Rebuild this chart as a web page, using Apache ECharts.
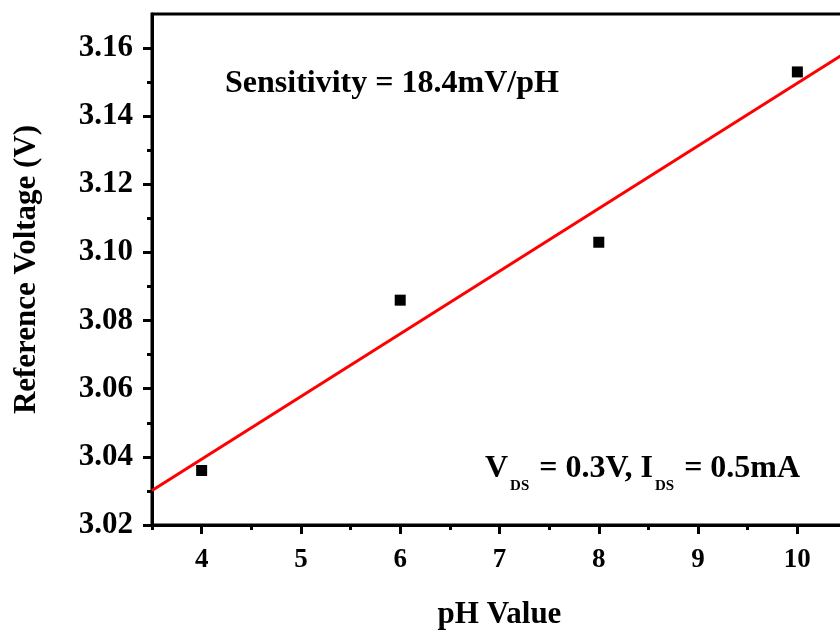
<!DOCTYPE html>
<html>
<head>
<meta charset="utf-8">
<script src="https://cdn.jsdelivr.net/npm/echarts@6/dist/echarts.min.js"></script>
<style>
  html, body { margin: 0; padding: 0; background: #fff; }
  #main { width: 840px; height: 631px; }
</style>
</head>
<body>
<div id="main"></div>
<script>
  // measured points
  var phValues = [4, 6, 8, 10];
  var refVoltage = [3.036, 3.086, 3.103, 3.153];
  // linear fit endpoints (18.4 mV/pH)
  var fitX = [3.5, 10.5];
  var fitY = [3.0301, 3.1589];
  // ticks
  var xMajorTicks = [4, 5, 6, 7, 8, 9, 10];
  var xMinorTicks = [3.5, 4.5, 5.5, 6.5, 7.5, 8.5, 9.5, 10.5];
  var yMajorTicks = [3.02, 3.04, 3.06, 3.08, 3.10, 3.12, 3.14, 3.16];
  var yMinorTicks = [3.03, 3.05, 3.07, 3.09, 3.11, 3.13, 3.15];

  var serif = 'Liberation Serif';
  var chart = echarts.init(document.getElementById('main'));

  chart.setOption({
    animation: false,
    grid: {
      left: 152, top: 14, right: -7, bottom: 106,
      outerBoundsMode: 'none', containLabel: false,
      show: true, borderColor: '#000', borderWidth: 3
    },
    xAxis: [
      {
        type: 'value', min: 3.5, max: 10.5, position: 'bottom',
        name: 'pH Value', nameLocation: 'middle', nameGap: 74,
        nameTextStyle: { fontFamily: serif, fontWeight: 'bold', fontSize: 31, color: '#000' },
        axisLine: { onZero: false, lineStyle: { color: '#000', width: 3 } },
        axisTick: { customValues: xMajorTicks, length: 9, lineStyle: { color: '#000', width: 3 } },
        axisLabel: {
          customValues: xMajorTicks, margin: 22,
          fontFamily: serif, fontWeight: 'bold', fontSize: 27, color: '#000'
        },
        splitLine: { show: false }
      },
      {
        type: 'value', min: 3.5, max: 10.5, position: 'bottom',
        axisLine: { show: false, onZero: false },
        axisTick: { customValues: xMinorTicks, length: 5, lineStyle: { color: '#000', width: 3 } },
        axisLabel: { show: false },
        splitLine: { show: false }
      }
    ],
    yAxis: [
      {
        type: 'value', min: 3.02, max: 3.17, position: 'left',
        name: 'Reference Voltage (V)', nameLocation: 'middle', nameGap: 110, nameRotate: 90,
        nameTextStyle: { fontFamily: serif, fontWeight: 'bold', fontSize: 31, color: '#000' },
        axisLine: { onZero: false, lineStyle: { color: '#000', width: 3 } },
        axisTick: { customValues: yMajorTicks, length: 9, lineStyle: { color: '#000', width: 3 } },
        axisLabel: {
          customValues: yMajorTicks, margin: 19,
          fontFamily: serif, fontWeight: 'bold', fontSize: 31, color: '#000',
          formatter: function (v) { return v.toFixed(2); }
        },
        splitLine: { show: false }
      },
      {
        type: 'value', min: 3.02, max: 3.17, position: 'left',
        axisLine: { show: false, onZero: false },
        axisTick: { customValues: yMinorTicks, length: 5, lineStyle: { color: '#000', width: 3 } },
        axisLabel: { show: false },
        splitLine: { show: false }
      }
    ],
    graphic: [
      {
        type: 'text', x: 225, y: 84,
        style: {
          text: 'Sensitivity = 18.4mV/pH',
          fontFamily: serif, fontWeight: 'bold', fontSize: 32, fill: '#000',
          align: 'left', verticalAlign: 'middle', textAlign: 'left', textVerticalAlign: 'middle'
        }
      },
      {
        type: 'text', x: 485, y: 443,
        style: {
          text: '{m|V}{s|DS}{m| = 0.3V, I}{s|DS}{m| = 0.5mA}',
          fontFamily: serif, fontWeight: 'bold', fontSize: 32, fill: '#000',
          align: 'left', verticalAlign: 'top', textAlign: 'left', textVerticalAlign: 'top',
          rich: {
            m: { fontFamily: serif, fontWeight: 'bold', fontSize: 32, fill: '#000', color: '#000' },
            s: { fontFamily: serif, fontWeight: 'bold', fontSize: 15, fill: '#000', color: '#000', padding: [36, 2, 0, 2] }
          }
        }
      }
    ],
    series: [
      {
        name: 'fit', type: 'line', xAxisIndex: 0, yAxisIndex: 0,
        data: fitX.map(function (x, i) { return [x, fitY[i]]; }),
        showSymbol: false, symbol: 'none',
        lineStyle: { color: '#ff0000', width: 3 },
        z: 2
      },
      {
        name: 'data', type: 'scatter', xAxisIndex: 0, yAxisIndex: 0,
        data: phValues.map(function (x, i) { return [x, refVoltage[i]]; }),
        symbol: 'rect', symbolSize: 11,
        itemStyle: { color: '#000', opacity: 1 },
        z: 3
      }
    ]
  });
</script>
</body>
</html>
